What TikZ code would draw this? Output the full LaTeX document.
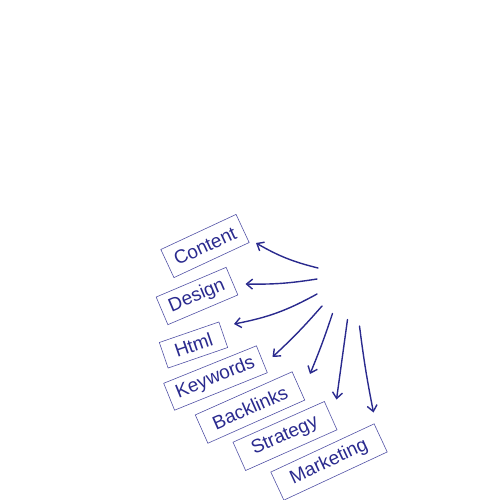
\documentclass[tikz,border=0pt]{standalone}
\usepackage{fontspec}
\setmainfont{Liberation Sans}
\usetikzlibrary{arrows.meta}
\definecolor{ink}{HTML}{2A2A8E}
\definecolor{boxc}{HTML}{5252A6}
\tikzset{
  tag/.style={draw=boxc, line width=0.6pt, text=ink, inner sep=0pt,
    font=\fontsize{19}{19}\selectfont, anchor=center},
  pen/.style={draw=ink, line width=1.4pt, line cap=round,
    -{Straight Barb[length=6pt,width=10pt,line width=1.4pt]}}
}
\begin{document}
\begin{tikzpicture}[x=1pt,y=-1pt]
\useasboundingbox (0,0) rectangle (500,500);
\node[tag, rotate=25, minimum width=83pt, minimum height=31pt] (content) at (205,246) {Content};
\node[tag, rotate=23, minimum width=76pt, minimum height=30pt] (design) at (197,296) {Design};
\node[tag, rotate=19, minimum width=63pt, minimum height=27pt] (html) at (193.5,345) {Html};
\node[tag, rotate=22, minimum width=100pt, minimum height=29pt] (keywords) at (215.5,378) {Keywords};
\node[tag, rotate=24, minimum width=106pt, minimum height=31pt] (backlinks) at (250,407.5) {Backlinks};
\node[tag, rotate=24, minimum width=100pt, minimum height=31pt] (strategy) at (285,436) {Strategy};
\node[tag, rotate=25, minimum width=114pt, minimum height=31pt] (marketing) at (329,462) {Marketing};

\coordinate (t1) at (318,268); \coordinate (h1) at (256,243);
\coordinate (t2) at (317,279); \coordinate (h2) at (245.5,284);
\coordinate (t3) at (317,294); \coordinate (h3) at (234,324);
\coordinate (t4) at (322,306); \coordinate (h4) at (272.5,357);
\coordinate (t5) at (332.5,313.5); \coordinate (h5) at (310,374);
\coordinate (t6) at (347.5,319.5); \coordinate (h6) at (336.5,399.5);
\coordinate (t7) at (359.5,326); \coordinate (h7) at (373.5,412.5);

\draw[pen] (t1) to[bend left=8] (h1);
\draw[pen] (t2) to[bend left=5] (h2);
\draw[pen] (t3) to[bend left=9] (h3);
\draw[pen] (t4) to[bend left=3] (h4);
\draw[pen] (t5) to[bend left=2] (h5);
\draw[pen] (t6) to (h6);
\draw[pen] (t7) to[bend right=2] (h7);
\end{tikzpicture}
\end{document}
